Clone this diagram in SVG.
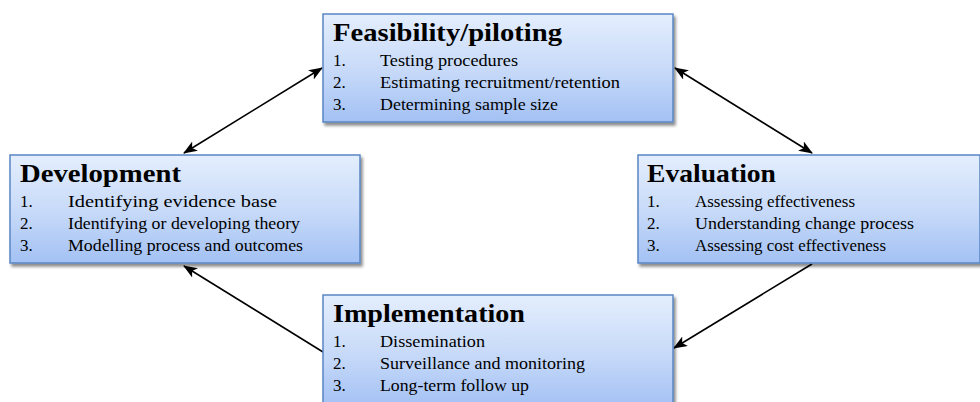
<svg xmlns="http://www.w3.org/2000/svg" width="980" height="402" viewBox="0 0 980 402">
<defs>
<linearGradient id="g" x1="0" y1="0" x2="0" y2="1">
<stop offset="0" stop-color="#e4eefd"/>
<stop offset="0.5" stop-color="#c9dbf9"/>
<stop offset="1" stop-color="#a3c1f4"/>
</linearGradient>
<filter id="sh" x="-5%" y="-5%" width="112%" height="120%">
<feDropShadow dx="2" dy="3" stdDeviation="1.5" flood-color="#000" flood-opacity="0.45"/>
</filter>
<marker id="ah" viewBox="0 0 14 11" refX="13" refY="5.5" markerWidth="14" markerHeight="11" markerUnits="userSpaceOnUse" orient="auto-start-reverse">
<path d="M0,0 L14,5.5 L0,11 L3.5,5.5 z" fill="#000"/>
</marker>
</defs>
<style>
.box{fill:url(#g);stroke:#5a86c4;stroke-width:1.5;filter:url(#sh)}
.t{font-family:"Liberation Serif","Times New Roman",serif;font-weight:bold;font-size:26px;fill:#000}
.i{font-family:"Liberation Serif","Times New Roman",serif;font-size:17px;fill:#000}
.c{stroke:#000;stroke-width:1.6;fill:none;marker-end:url(#ah)}
</style>
<rect width="980" height="402" fill="#fff"/>
<g id="connectors">
<line class="c" x1="322" y1="68" x2="184" y2="153" style="marker-start:url(#ah)"/>
<line class="c" x1="675" y1="68" x2="812" y2="153" style="marker-start:url(#ah)"/>
<line class="c" x1="323" y1="352" x2="184" y2="266"/>
<line class="c" x1="812" y1="264" x2="674" y2="348"/>
</g>
<g id="feasibility">
<rect class="box" x="323" y="14" width="350" height="108"/>
<text class="t" x="333" y="41" textLength="229" lengthAdjust="spacingAndGlyphs">Feasibility/piloting</text>
<text class="i" x="333" y="66">1.</text><text class="i" x="380" y="66" textLength="138" lengthAdjust="spacingAndGlyphs">Testing procedures</text>
<text class="i" x="333" y="88">2.</text><text class="i" x="380" y="88" textLength="240" lengthAdjust="spacingAndGlyphs">Estimating recruitment/retention</text>
<text class="i" x="333" y="110">3.</text><text class="i" x="380" y="110" textLength="178" lengthAdjust="spacingAndGlyphs">Determining sample size</text>
</g>
<g id="development">
<rect class="box" x="10" y="155" width="350" height="108"/>
<text class="t" x="20" y="182" textLength="161" lengthAdjust="spacingAndGlyphs">Development</text>
<text class="i" x="20" y="207">1.</text><text class="i" x="68" y="207" textLength="209" lengthAdjust="spacingAndGlyphs">Identifying evidence base</text>
<text class="i" x="20" y="229">2.</text><text class="i" x="68" y="229" textLength="232" lengthAdjust="spacingAndGlyphs">Identifying or developing theory</text>
<text class="i" x="20" y="251">3.</text><text class="i" x="68" y="251" textLength="235" lengthAdjust="spacingAndGlyphs">Modelling process and outcomes</text>
</g>
<g id="evaluation">
<rect class="box" x="638" y="155" width="342" height="108"/>
<text class="t" x="647" y="182" textLength="129" lengthAdjust="spacingAndGlyphs">Evaluation</text>
<text class="i" x="647" y="207">1.</text><text class="i" x="695" y="207" textLength="160" lengthAdjust="spacingAndGlyphs">Assessing effectiveness</text>
<text class="i" x="647" y="229">2.</text><text class="i" x="695" y="229" textLength="219" lengthAdjust="spacingAndGlyphs">Understanding change process</text>
<text class="i" x="647" y="251">3.</text><text class="i" x="695" y="251" textLength="191" lengthAdjust="spacingAndGlyphs">Assessing cost effectiveness</text>
</g>
<g id="implementation">
<rect class="box" x="323" y="295" width="350" height="112"/>
<text class="t" x="333" y="322" textLength="192" lengthAdjust="spacingAndGlyphs">Implementation</text>
<text class="i" x="333" y="347">1.</text><text class="i" x="380" y="347" textLength="105" lengthAdjust="spacingAndGlyphs">Dissemination</text>
<text class="i" x="333" y="369">2.</text><text class="i" x="380" y="369" textLength="205" lengthAdjust="spacingAndGlyphs">Surveillance and monitoring</text>
<text class="i" x="333" y="391">3.</text><text class="i" x="380" y="391" textLength="149" lengthAdjust="spacingAndGlyphs">Long-term follow up</text>
</g>
</svg>
